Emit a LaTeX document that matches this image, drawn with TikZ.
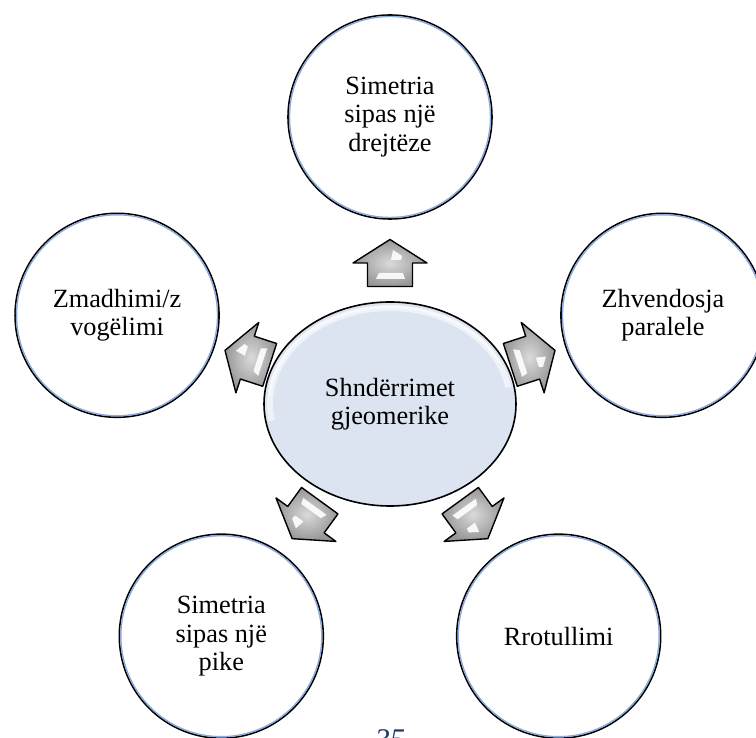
\documentclass[tikz,border=0pt]{standalone}
\usepackage{fontspec}
\setmainfont{Liberation Serif}
\usetikzlibrary{shapes.geometric,calc}

\definecolor{ringblue}{RGB}{140,170,220}
\definecolor{corefill}{RGB}{220,228,241}
\definecolor{arrowdark}{RGB}{150,150,150}
\definecolor{arrowlight}{RGB}{218,218,218}
\definecolor{pagenum}{RGB}{31,56,100}

\tikzset{
  txt/.style={font=\fontsize{26.3}{28.5}\selectfont, align=center},
  outer/.style={circle, draw=black, line width=1.6pt, fill=white,
    minimum size=204pt, inner sep=0pt, txt},
  core/.style={ellipse, draw=black, line width=1.6pt, fill=corefill,
    minimum width=252pt, minimum height=204pt, inner sep=0pt, txt},
  rim/.style={draw=ringblue, line width=1.4pt},
  garrow/.pic={
    \shadedraw[inner color=arrowlight, outer color=arrowdark, draw=black,
      line width=1.4pt, line join=round]
      (-23.5,-22.5) -- (0,-22.5) -- (0,-37) -- (23.5,0) -- (0,37)
      -- (0,22.5) -- (-23.5,22.5) -- cycle;
    \fill[white, opacity=.9] (3,-1) -- (13,-3) -- (7,-12) -- (3,-11) -- cycle;
    \fill[white, opacity=.9] (-10,-13) -- (-10,11) -- (-16,14) -- (-16,-15) -- cycle;
  }
}

\begin{document}
\begin{tikzpicture}[x=1pt,y=1pt]
\useasboundingbox (0,0) rectangle (756,738);

\coordinate (hub) at (390,334);

% central ellipse with a soft gloss along its upper rim
\node[core] (centre) at (hub) {Shndërrimet\\gjeomerike};
\draw[white, opacity=.55, line width=6pt]
  ($(hub)+(10:120 and 96)$) arc[start angle=10, end angle=190, x radius=120, y radius=96];
\draw[white, opacity=.6, line width=2.5pt]
  ($(hub)+(25:121 and 97)$) arc[start angle=25, end angle=175, x radius=121, y radius=97];

% the five surrounding circles
\node[outer] (sym1) at ($(hub)+(90:287)$)  {Simetria\\sipas një\\drejtëze};
\node[outer] (move) at ($(hub)+(18:287)$)  {Zhvendosja\\paralele};
\node[outer] (rot)  at ($(hub)+(-54:287)$) {Rrotullimi};
\node[outer] (sym2) at ($(hub)+(234:287)$) {Simetria\\sipas një\\pike};
\node[outer] (zoom) at ($(hub)+(162:287)$) {Zmadhimi/z\\vogëlimi};
\foreach \n in {sym1,move,rot,sym2,zoom}
  \draw[rim] (\n.center) circle[radius=100.5];

% block arrows pointing outwards
\pic[rotate=90]  at ($(hub)+(90:141)$)  {garrow};
\pic[rotate=18]  at ($(hub)+(18:150)$)  {garrow};
\pic[rotate=-54] at ($(hub)+(-54:143)$) {garrow};
\pic[rotate=234] at ($(hub)+(234:143)$) {garrow};
\pic[rotate=162] at ($(hub)+(162:150)$) {garrow};

% page number, cut by the lower edge
\node[font=\fontsize{30}{32}\selectfont\itshape, text=pagenum, anchor=base,
  inner sep=0pt] (pageno) at (390,-12) {35};
\end{tikzpicture}
\end{document}
